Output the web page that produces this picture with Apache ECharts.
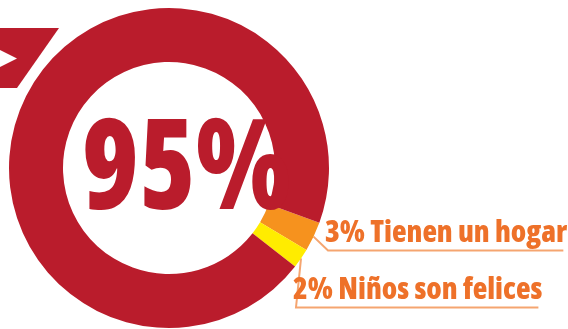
<!DOCTYPE html>
<html>
<head>
<meta charset="utf-8">
<style>
  html, body { margin: 0; padding: 0; background: #ffffff; }
  #chart { width: 568px; height: 329px; }
</style>
<script src="https://cdn.jsdelivr.net/npm/echarts@6/dist/echarts.min.js"></script>
</head>
<body>
<div id="chart"></div>
<script>
// Share of each group, in percent
const categories = ['Tienen un hogar', 'Niños son felices', 'Resto'];
const shares = [3, 2, 95];
const sliceColors = ['#F6921E', '#FFEC00', '#BA1C2C'];

// Where each outside label sits: left edge and vertical centre
const labelAnchors = [[325, 233], [293, 290]];

const chart = echarts.init(document.getElementById('chart'), null, { renderer: 'canvas' });

const data = categories.map((name, i) => ({
  name: name,
  value: shares[i],
  itemStyle: { color: sliceColors[i] },
  label: { show: i < 2 },
  labelLine: { show: i < 2 }
}));

chart.setOption({
  animation: false,
  backgroundColor: '#ffffff',
  graphic: [
    // banner with arrow notch, top left
    {
      type: 'polygon',
      shape: { points: [[0, 28], [59, 28], [17, 88], [0, 88]] },
      style: { fill: '#BA1C2C' }
    },
    {
      type: 'polygon',
      shape: { points: [[0, 50], [17, 58.5], [0, 67]] },
      style: { fill: '#ffffff' }
    },
    // big figure in the hole of the ring
    {
      type: 'text',
      x: 82,
      y: 173,
      scaleX: 0.915,
      z: 10,
      style: {
        text: shares[2] + '%',
        x: 0,
        y: 0,
        align: 'left',
        verticalAlign: 'middle',
        fill: '#BA1C2C',
        font: '800 condensed 125px "Open Sans", sans-serif'
      }
    }
  ],
  series: [{
    type: 'pie',
    center: [169, 168],
    radius: [106, 160],
    startAngle: -20,
    clockwise: true,
    avoidLabelOverlap: false,
    silent: true,
    label: {
      position: 'outside',
      formatter: '{c}% {b}',
      color: '#EE7129',
      fontFamily: '"Open Sans", sans-serif',
      fontWeight: '800 condensed',
      fontSize: 30
    },
    labelLine: {
      length: 10,
      length2: 10,
      lineStyle: { color: '#F5A570', width: 2 }
    },
    labelLayout: function (p) {
      const a = labelAnchors[p.dataIndex];
      if (!a) return {};
      const w = p.labelRect.width;
      const lineY = a[1] + 17.5;
      const start = p.labelLinePoints ? p.labelLinePoints[0] : [a[0], a[1]];
      return {
        x: a[0],
        y: a[1],
        align: 'left',
        verticalAlign: 'middle',
        labelLinePoints: [start, [a[0] + 3, lineY], [a[0] + w - 4, lineY]]
      };
    },
    data: data
  }]
});
</script>
</body>
</html>
